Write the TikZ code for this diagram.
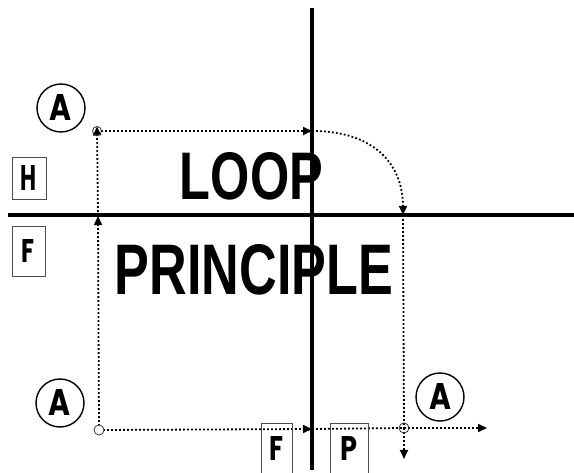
\documentclass[tikz,border=0pt]{standalone}
\usepackage{fontspec}
\setmainfont{Liberation Sans}
\newfontfamily\geofont{Poppins}
\usetikzlibrary{arrows.meta}
\begin{document}
\begin{tikzpicture}[x=1pt,y=-1pt,
  thick line/.style={line width=3.6pt},
  dotline/.style={line width=1.8pt, dash pattern=on 1.8pt off 2.2pt},
  tip/.style={-{Triangle[length=9pt,width=8pt]}},
  circA/.style={draw, circle, line width=1.4pt, minimum size=48pt, inner sep=0pt},
  boxlbl/.style={draw=black!70, line width=0.8pt, inner sep=0pt},
  smallc/.style={draw=black!80, circle, line width=0.8pt, minimum size=10pt, inner sep=0pt, fill=white},
  bigtext/.style={inner sep=0pt}]
\useasboundingbox (0,0) rectangle (574,473);
% big labels
\node[bigtext] (loop) at (251.5,176.5) {\resizebox{143pt}{47pt}{\bfseries LOOP}};
\node[bigtext] (principle) at (254,270) {\resizebox{278pt}{50pt}{\bfseries PRINCIPLE}};
% axes
\coordinate (hl) at (8,215);
\coordinate (hr) at (574,215);
\coordinate (vt) at (312,8);
\coordinate (vb) at (312,470);
\draw[thick line] (hl) -- (hr);
\draw[thick line] (vt) -- (vb);
% small circles / key points
\coordinate (c1) at (99,430);
\coordinate (c2) at (97,131);
\coordinate (c3) at (404,428);
\coordinate (hx) at (98,216);
\coordinate (vx) at (312,131);
\coordinate (hy) at (403,215);
\coordinate (vy) at (312,429);
\coordinate (down) at (404,459);
\coordinate (right) at (487,428);
% dotted flows
\draw[dotline,tip] (c1) -- (hx);
\draw[dotline,tip] (hx) -- ([yshift=4.5pt]c2);
\draw[dotline,tip] (c2) -- (vx);
\draw[dotline,tip] (vx) .. controls (375,131) and (403,165) .. (hy);
\draw[dotline] (hy) -- (c3);
\draw[dotline,tip] (c3) -- (down);
\draw[dotline,tip] (c1) -- (vy);
\draw[dotline] (vy) -- (c3);
\draw[dotline,tip] (c3) -- (right);
\node[smallc] (s1) at (c1) {};
\node[smallc,minimum size=9pt,fill=none] (s2) at (c2) {};
\node[smallc,fill=none] (s3) at (c3) {};
% circled A
\node[circA] (a1) at (61,108) {\resizebox{22pt}{26pt}{\geofont\bfseries A}};
\node[circA] (a2) at (60,403) {\resizebox{22pt}{26pt}{\geofont\bfseries A}};
\node[circA] (a3) at (440,397) {\resizebox{22pt}{26pt}{\geofont\bfseries A}};
% boxed letters
\node[boxlbl, minimum width=34pt, minimum height=42pt] (h) at (29,178) {\resizebox{16pt}{25pt}{\geofont\bfseries H}};
\node[boxlbl, minimum width=33pt, minimum height=50pt] (f1) at (28.5,251) {\resizebox{13pt}{23pt}{\geofont\bfseries F}};
\node[boxlbl, minimum width=31pt, minimum height=52pt] (f2) at (276.5,449) {\resizebox{14pt}{24pt}{\geofont\bfseries F}};
\node[boxlbl, minimum width=38pt, minimum height=52pt] (p) at (349,449) {\resizebox{17pt}{24pt}{\geofont\bfseries P}};
\end{tikzpicture}
\end{document}
